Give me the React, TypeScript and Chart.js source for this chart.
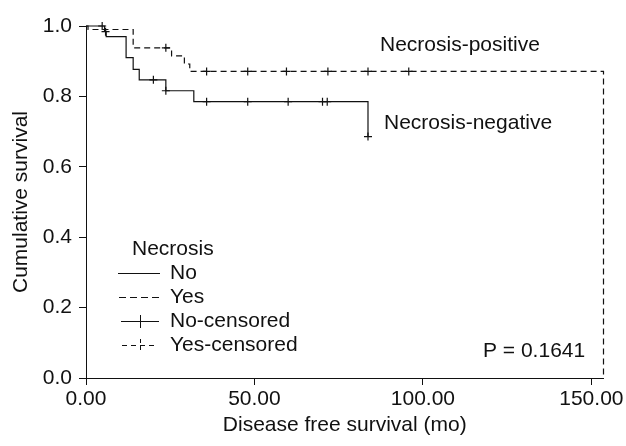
import React, { useEffect, useRef } from "react";
import { Chart, registerables } from "chart.js";

Chart.register(...registerables);

// Kaplan-Meier step points: [month, survival]
const noCurveX = [0, 5.5, 6.0, 11.9, 14.0, 15.8, 23.7, 32.0, 83.7];
const noCurveY = [1.0, 0.985, 0.97, 0.91, 0.877, 0.847, 0.816, 0.785, 0.686];
const yesCurveX = [0, 0.6, 14.0, 25.4, 29.2, 30.8, 153.6];
const yesCurveY = [1.0, 0.99, 0.938, 0.915, 0.892, 0.871, 0.0];

// censored observations
const noCensX = [4.8, 5.8, 20.0, 23.7, 35.8, 48.0, 60.0, 70.2, 71.6, 83.7];
const noCensY = [1.0, 0.984, 0.847, 0.816, 0.785, 0.785, 0.785, 0.785, 0.785, 0.686];
const yesCensX = [23.7, 35.8, 48.0, 59.5, 71.8, 83.7, 95.8];
const yesCensY = [0.938, 0.871, 0.871, 0.871, 0.871, 0.871, 0.871];

const xTicks = [0, 50, 100, 150];
const yTicks = [0, 0.2, 0.4, 0.6, 0.8, 1.0];

const legendTitle = "Necrosis";
const legendLabels = ["No", "Yes", "No-censored", "Yes-censored"];
const annotPositive = "Necrosis-positive";
const annotNegative = "Necrosis-negative";
const pValueText = "P = 0.1641";

const FONT = '"Liberation Sans", Arial, Helvetica, sans-serif';
const INK = "#111";

const zip = (xs: number[], ys: number[]) => xs.map((x, i) => ({ x, y: ys[i] }));

const textPlugin = {
  id: "kmText",
  afterDraw(chart: any) {
    const ctx = chart.ctx as CanvasRenderingContext2D;
    ctx.save();
    ctx.fillStyle = INK;
    ctx.strokeStyle = INK;
    ctx.font = `21px ${FONT}`;
    ctx.textBaseline = "middle";
    ctx.textAlign = "left";
    ctx.fillText(annotPositive, 380, 45);
    ctx.fillText(annotNegative, 384, 123);
    ctx.fillText(pValueText, 483, 351);

    // legend
    ctx.fillText(legendTitle, 132, 249);
    const rows = [273, 297, 321, 345];
    const textX = 170;
    rows.forEach((y, i) => ctx.fillText(legendLabels[i], textX, y));
    ctx.lineWidth = 1;
    // No: solid line
    ctx.setLineDash([]);
    ctx.beginPath();
    ctx.moveTo(118, rows[0] + 0.5);
    ctx.lineTo(160, rows[0] + 0.5);
    ctx.stroke();
    // Yes: dashed line
    ctx.setLineDash([7, 4]);
    ctx.beginPath();
    ctx.moveTo(119, rows[1] + 0.5);
    ctx.lineTo(160, rows[1] + 0.5);
    ctx.stroke();
    // No-censored
    ctx.setLineDash([]);
    ctx.beginPath();
    ctx.moveTo(121, rows[2] + 0.5);
    ctx.lineTo(159, rows[2] + 0.5);
    ctx.moveTo(140.5, rows[2] - 6);
    ctx.lineTo(140.5, rows[2] + 7);
    ctx.stroke();
    // Yes-censored
    ctx.setLineDash([5, 4]);
    ctx.beginPath();
    ctx.moveTo(122, rows[3] + 0.5);
    ctx.lineTo(158, rows[3] + 0.5);
    ctx.stroke();
    ctx.setLineDash([4, 3]);
    ctx.beginPath();
    ctx.moveTo(140.5, rows[3] - 6);
    ctx.lineTo(140.5, rows[3] + 7);
    ctx.stroke();
    ctx.restore();
  },
};

export default function App() {
  const ref = useRef<HTMLCanvasElement | null>(null);

  useEffect(() => {
    document.body.style.margin = "0";
    const canvas = ref.current;
    if (!canvas) return;
    const lineBase = {
      showLine: true,
      stepped: true,
      pointRadius: 0,
      borderColor: INK,
      borderWidth: 1.2,
      fill: false,
      clip: false as any,
    };
    const chart = new Chart(canvas, {
      type: "scatter",
      data: {
        datasets: [
          { ...lineBase, label: "No", data: zip(noCurveX, noCurveY) },
          { ...lineBase, label: "Yes", data: zip(yesCurveX, yesCurveY), borderDash: [6, 4] },
          {
            label: "No-censored",
            data: zip(noCensX, noCensY),
            showLine: false,
            pointStyle: "cross",
            pointRadius: 4,
            borderColor: INK,
            borderWidth: 1.2,
            clip: false as any,
          },
          {
            label: "Yes-censored",
            data: zip(yesCensX, yesCensY),
            showLine: false,
            pointStyle: "cross",
            pointRadius: 4,
            borderColor: INK,
            borderWidth: 1.2,
            clip: false as any,
          },
        ],
      },
      options: {
        animation: false,
        responsive: false,
        devicePixelRatio: 1,
        layout: { padding: { top: 26, right: 22, left: 0, bottom: 0 } },
        plugins: {
          legend: { display: false },
          tooltip: { enabled: false },
        },
        scales: {
          x: {
            type: "linear",
            min: 0,
            max: 153.6,
            afterBuildTicks: (s: any) => {
              s.ticks = xTicks.map((v) => ({ value: v }));
            },
            afterFit: (s: any) => {
              s.height = 68;
            },
            ticks: {
              color: INK,
              font: { family: FONT, size: 21 },
              padding: 2,
              maxRotation: 0,
              autoSkip: false,
              callback: (v: any) => Number(v).toFixed(2),
            },
            grid: {
              display: true,
              drawOnChartArea: false,
              drawTicks: true,
              tickLength: 7,
              color: INK,
              lineWidth: 1,
            },
            border: { display: true, color: INK, width: 1 },
            title: {
              display: true,
              text: "Disease free survival (mo)",
              color: INK,
              font: { family: FONT, size: 21 },
              padding: { top: 0, bottom: 8 },
            },
          },
          y: {
            type: "linear",
            min: 0,
            max: 1,
            afterBuildTicks: (s: any) => {
              s.ticks = yTicks.map((v) => ({ value: v }));
            },
            afterFit: (s: any) => {
              s.width = 86;
            },
            ticks: {
              color: INK,
              font: { family: FONT, size: 21 },
              padding: 7,
              autoSkip: false,
              callback: (v: any) => Number(v).toFixed(1),
            },
            grid: {
              display: true,
              drawOnChartArea: false,
              drawTicks: true,
              tickLength: 7,
              color: INK,
              lineWidth: 1,
            },
            border: { display: true, color: INK, width: 1 },
            title: {
              display: true,
              text: "Cumulative survival",
              color: INK,
              font: { family: FONT, size: 21 },
              padding: { top: 9, bottom: 0 },
            },
          },
        },
      },
      plugins: [textPlugin],
    });
    return () => chart.destroy();
  }, []);

  return (
    <div style={{ position: "absolute", left: 0, top: 0, width: 626, height: 446, background: "#fff" }}>
      <canvas ref={ref} width={626} height={446} />
    </div>
  );
}
